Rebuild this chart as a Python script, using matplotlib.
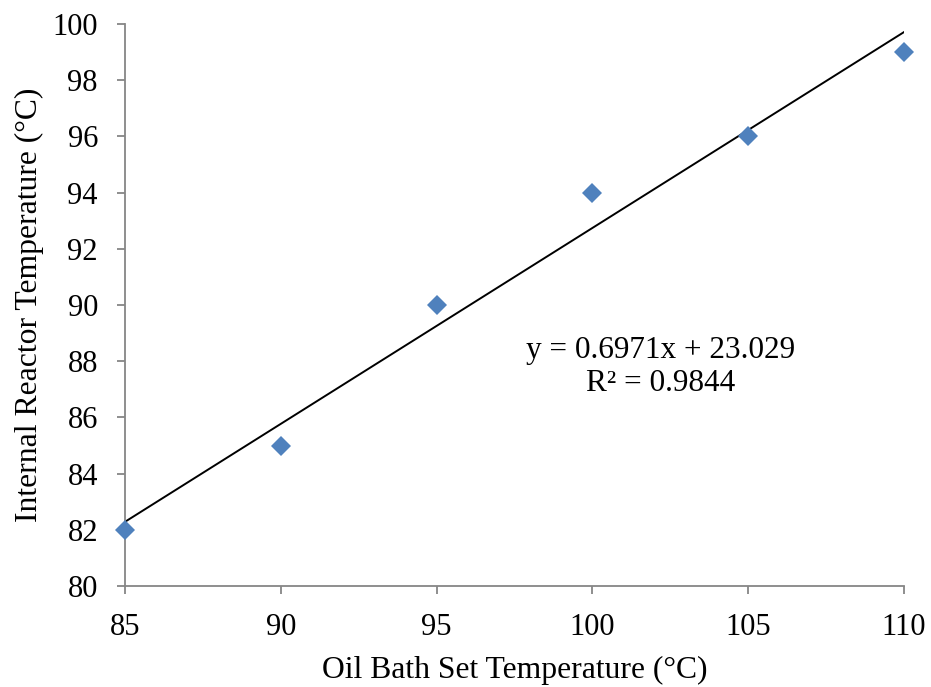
import numpy as np
import matplotlib.pyplot as plt

# --- Data ---
oil_bath = [85, 90, 95, 100, 105, 110]
reactor = [82, 85, 90, 94, 96, 99]

x_ticks = [85, 90, 95, 100, 105, 110]
y_ticks = [80, 82, 84, 86, 88, 90, 92, 94, 96, 98, 100]

plt.rcParams['font.family'] = ['Liberation Serif', 'DejaVu Serif']

fig = plt.figure(figsize=(9.31, 6.87), dpi=100)
ax = fig.add_axes([0.1343, 0.147, 0.8367, 0.818])

# linear trendline
slope, intercept = np.polyfit(oil_bath, reactor, 1)
xs = np.array([oil_bath[0], oil_bath[-1]])
ax.plot(xs, slope * xs + intercept, color='black', lw=1.4, zorder=2)

ax.plot(oil_bath, reactor, linestyle='none', marker='D', markersize=10,
        color='#4F81BD', markeredgewidth=0, zorder=3, clip_on=False)

r2 = np.corrcoef(oil_bath, reactor)[0, 1] ** 2
ax.text(102.2, 87.8, f"y = {slope:.4f}x + {intercept:.3f}\nR² = {r2:.4f}",
        ha='center', va='center', fontsize=22.5, linespacing=1.2)

ax.set_xlim(85, 110)
ax.set_ylim(80, 100)
ax.set_xticks(x_ticks)
ax.set_yticks(y_ticks)

for side in ['top', 'right']:
    ax.spines[side].set_visible(False)
for side in ['left', 'bottom']:
    ax.spines[side].set_color('#868686')
    ax.spines[side].set_linewidth(1.3)
ax.tick_params(direction='out', length=5.5, width=1.3, color='#868686',
               labelsize=22)
ax.tick_params(axis='y', pad=14)
ax.tick_params(axis='x', pad=14)

ax.set_xlabel("Oil Bath Set Temperature (°C)", fontsize=22.8, labelpad=10)
ax.set_ylabel("Internal Reactor Temperature (°C)", fontsize=22.8, labelpad=6)

fig.savefig("out.png", dpi=100)
